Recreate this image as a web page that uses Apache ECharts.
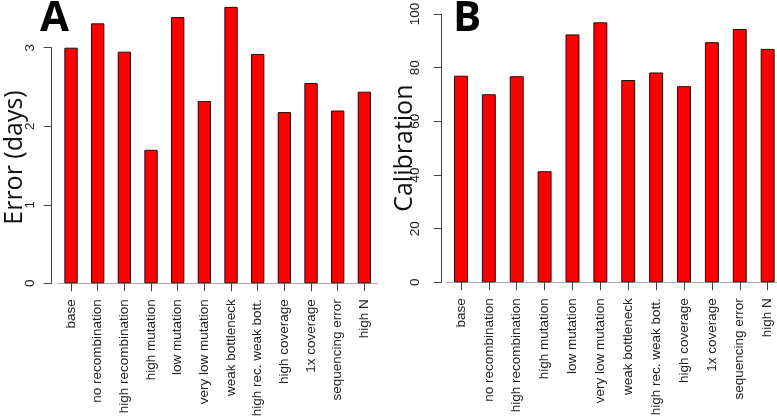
<!DOCTYPE html>
<html>
<head>
<meta charset="utf-8">
<script src="https://cdn.jsdelivr.net/npm/echarts@6/dist/echarts.min.js"></script>
<style>
html,body{margin:0;padding:0;background:#fff;}
#chart{width:777px;height:420px;}
</style>
</head>
<body>
<div id="chart"></div>
<script>
var categories = ['base','no recombination','high recombination','high mutation','low mutation','very low mutation','weak bottleneck','high rec. weak bott.','high coverage','1x coverage','sequencing error','high N'];
var errorDays = [3.00, 3.31, 2.95, 1.70, 3.39, 2.32, 3.52, 2.92, 2.18, 2.55, 2.20, 2.44];
var calibration = [77.0, 70.1, 76.8, 41.4, 92.4, 96.9, 75.4, 78.2, 73.1, 89.5, 94.4, 87.0];
var errorTicks = [0, 1, 2, 3];
var calibrationTicks = [0, 20, 40, 60, 80, 100];

var tickFont = 'Liberation Sans';
var axisColor = '#444';

function xAxisCfg(gridIndex){
  return {
    type:'category', gridIndex:gridIndex, data:categories,
    axisLine:{show:true, lineStyle:{color:'#aaa', width:1}},
    axisTick:{show:true, alignWithLabel:true, length:8, lineStyle:{color:axisColor}},
    axisLabel:{rotate:90, margin:16, fontSize:13.5, color:'#222', fontFamily:tickFont, interval:0}
  };
}
function yAxisCfg(gridIndex, max, interval, name, offset, padding, labelMargin){
  return {
    type:'value', gridIndex:gridIndex, min:0, max:max, interval:interval, offset:offset,
    name:name, nameLocation:'middle', nameGap:24, nameMoveOverlap:false,
    nameTextStyle:{fontFamily:'Open Sans', fontSize:25, color:'#111', padding:padding},
    axisLine:{show:true, lineStyle:{color:axisColor, width:1}},
    axisTick:{show:true, length:8, lineStyle:{color:axisColor}},
    axisLabel:{rotate:90, margin:labelMargin, fontSize:13.5, color:'#222', fontFamily:tickFont},
    splitLine:{show:false}
  };
}
function barSeries(idx, data){
  return {
    type:'bar', xAxisIndex:idx, yAxisIndex:idx, data:data, barWidth:'50%', clip:false,
    itemStyle:{color:'#ff0000', borderColor:'#2a0a0a', borderWidth:1},
    silent:true, animation:false
  };
}

var chart = echarts.init(document.getElementById('chart'), null, {renderer:'canvas'});
chart.setOption({
  animation:false,
  backgroundColor:'#ffffff',
  title:[
    {text:'A', left:40, top:-2, padding:0, textStyle:{fontFamily:'Open Sans', fontWeight:'bold', fontSize:42, color:'#000'}},
    {text:'B', left:453, top:-2, padding:0, textStyle:{fontFamily:'Open Sans', fontWeight:'bold', fontSize:42, color:'#000'}}
  ],
  grid:[
    {left:57.7, top:47.7, width:320, height:235.6, containLabel:false, outerBoundsMode:'none'},
    {left:447, top:14, width:334.6, height:268.3, containLabel:false, outerBoundsMode:'none'}
  ],
  xAxis:[xAxisCfg(0), xAxisCfg(1)],
  yAxis:[
    yAxisCfg(0, errorTicks[errorTicks.length-1], errorTicks[1]-errorTicks[0], 'Error (days)', 6, [0,0,0,16], 14),
    yAxisCfg(1, calibrationTicks[calibrationTicks.length-1], calibrationTicks[1]-calibrationTicks[0], 'Calibration', 5.3, [0,0,0,0], 19)
  ],
  series:[barSeries(0, errorDays), barSeries(1, calibration)]
});
</script>
</body>
</html>
